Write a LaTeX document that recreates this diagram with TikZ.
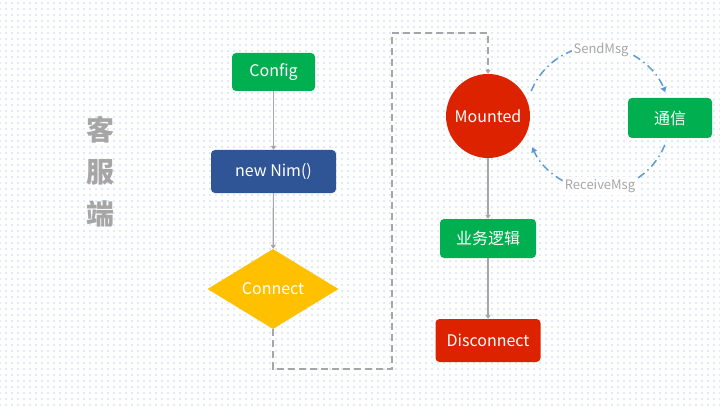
\documentclass[tikz,border=0pt]{standalone}
\usepackage{fontspec}
\setmainfont{Noto Sans CJK SC}
\usetikzlibrary{shapes.geometric,arrows.meta,patterns.meta}
\definecolor{bggray}{RGB}{166,166,166}
\definecolor{okgreen}{RGB}{0,176,80}
\definecolor{nimblue}{RGB}{47,85,151}
\definecolor{connyellow}{RGB}{255,192,0}
\definecolor{errred}{RGB}{221,34,0}
\definecolor{dotblue}{RGB}{110,165,225}
\definecolor{msgblue}{RGB}{91,155,213}
\begin{document}
\begin{tikzpicture}[x=1pt,y=1pt]
  \tikzset{ box/.style={rounded corners=4pt,text=white,inner sep=0pt,font=\fontsize{16}{19}\selectfont},
    flow/.style={bggray,line width=1.2pt,-{Triangle[width=5pt,length=4pt]}},
    msg/.style={msgblue,line width=1.5pt,dash pattern=on 8pt off 4pt on 1.5pt off 4pt,-{Triangle[width=6pt,length=5pt]}},
    tag/.style={bggray,fill=white,inner sep=2pt,font=\fontsize{13}{15}\selectfont},
  }
  % background
  \fill[white] (0,0) rectangle (720,405);
  \fill[pattern={Dots[radius=0.7pt,distance=6pt]},pattern color=dotblue] (0,0) rectangle (720,405);
  \useasboundingbox (0,0) rectangle (720,405);

  % side title
  \node (title) at (100,233) [bggray,align=center,font=\fontsize{28}{42}\selectfont\bfseries] {客\\服\\端};

  % left column
  \node (config) at (273.5,333) [box,fill=okgreen,minimum width=83pt,minimum height=38pt] {Config};
  \node (newnim) at (273.5,233.5) [box,fill=nimblue,minimum width=125pt,minimum height=43pt] {new Nim()};
  \node (connect) at (273,116) [diamond,fill=connyellow,text=white,inner sep=0pt,minimum width=131pt,minimum height=80pt,font=\fontsize{16}{19}\selectfont] {Connect};

  % right column
  \node (mounted) at (488,289) [circle,fill=errred,text=white,inner sep=0pt,minimum size=84pt,font=\fontsize{16}{19}\selectfont] {Mounted};
  \node (tongxin) at (670,287) [box,fill=okgreen,minimum width=84pt,minimum height=40pt] {通信};
  \node (logic) at (488,166.5) [box,fill=okgreen,minimum width=96pt,minimum height=39pt] {业务逻辑};
  \node (disconnect) at (488,64.5) [box,fill=errred,minimum width=105pt,minimum height=43pt] {Disconnect};

  \draw[flow] (config) -- (newnim);
  \draw[flow] (newnim) -- (connect);
  \draw[flow] (mounted) -- (logic);
  \draw[flow] (logic) -- (disconnect);

  % dashed link
  \coordinate (low) at (392,36);
  \coordinate (high) at (392,372);
  \draw[bggray,line width=1.8pt,dash pattern=on 7pt off 4pt,-{Triangle[width=5pt,length=4pt]}]
    (connect.south) |- (low) -- (high) -| (mounted.north);

  % messages
  \coordinate (ring) at (598,287);
  \draw[msg] (ring) ++(158:72) arc[start angle=158,end angle=21,radius=72];
  \draw[msg] (ring) ++(-22:72) arc[start angle=-22,end angle=-156,radius=72];
  \node (send) at (601,355) [tag] {SendMsg};
  \node (receive) at (600,219) [tag] {ReceiveMsg};
\end{tikzpicture}
\end{document}
